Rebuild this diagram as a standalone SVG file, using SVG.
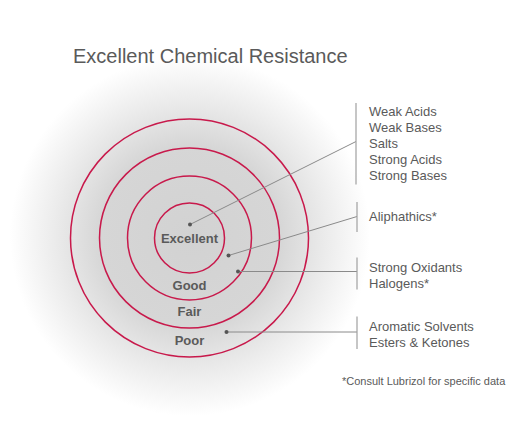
<svg xmlns="http://www.w3.org/2000/svg" width="530" height="433" viewBox="0 0 530 433">
<defs>
<radialGradient id="bg" gradientUnits="userSpaceOnUse" cx="190" cy="236" r="180">
<stop offset="0" stop-color="#d2d2d2"/>
<stop offset="0.5" stop-color="#d6d6d6"/>
<stop offset="0.75" stop-color="#ebebeb"/>
<stop offset="1" stop-color="#ffffff"/>
</radialGradient>
<style>
.ring{fill:none;stroke:#c8194b;stroke-width:1.5}
.lvl{font-family:"Liberation Sans",Arial,sans-serif;font-size:13px;font-weight:bold;fill:#5a5a5a;text-anchor:middle}
.lbl{font-family:"Liberation Sans",Arial,sans-serif;font-size:13px;fill:#5a5a5a}
.conn{stroke:#8a8a8a;stroke-width:1;fill:none}
.brk{stroke:#a0a0a0;stroke-width:1.2;fill:none}
.dot{fill:#555555}
</style>
</defs>
<rect width="530" height="433" fill="#ffffff"/>
<rect width="530" height="433" fill="url(#bg)"/>
<text x="73" y="63" font-family="'Liberation Sans',Arial,sans-serif" font-size="20" fill="#5a5a5a">Excellent Chemical Resistance</text>
<g id="rings">
<circle class="ring" cx="189.5" cy="238" r="119"/>
<circle class="ring" cx="189.5" cy="238" r="90"/>
<circle class="ring" cx="189.5" cy="238" r="62"/>
<circle class="ring" cx="189.5" cy="238" r="35"/>
</g>
<g id="node-excellent"><text class="lvl" x="189.5" y="243">Excellent</text></g>
<g id="node-good"><text class="lvl" x="189.5" y="289.5">Good</text></g>
<g id="node-fair"><text class="lvl" x="189.5" y="316">Fair</text></g>
<g id="node-poor"><text class="lvl" x="189.5" y="345">Poor</text></g>
<g id="connectors">
<line class="conn" x1="190" y1="224.5" x2="356" y2="141.5"/>
<line class="conn" x1="228.5" y1="255.5" x2="357" y2="216.5"/>
<line class="conn" x1="238" y1="271.5" x2="357" y2="271.5"/>
<line class="conn" x1="226.5" y1="332" x2="357" y2="332"/>
<circle class="dot" cx="190" cy="224.5" r="2"/>
<circle class="dot" cx="228.5" cy="255.5" r="2"/>
<circle class="dot" cx="238" cy="271.5" r="2"/>
<circle class="dot" cx="226.5" cy="332" r="2"/>
</g>
<g id="group-excellent">
<line class="brk" x1="356" y1="103" x2="356" y2="184.5"/>
<text class="lbl" x="369" y="116">Weak Acids</text>
<text class="lbl" x="369" y="132">Weak Bases</text>
<text class="lbl" x="369" y="148">Salts</text>
<text class="lbl" x="369" y="164">Strong Acids</text>
<text class="lbl" x="369" y="180">Strong Bases</text>
</g>
<g id="group-good">
<line class="brk" x1="357" y1="202" x2="357" y2="232"/>
<text class="lbl" x="369" y="221">Aliphathics*</text>
</g>
<g id="group-fair">
<line class="brk" x1="357" y1="257.5" x2="357" y2="289.5"/>
<text class="lbl" x="369" y="272">Strong Oxidants</text>
<text class="lbl" x="369" y="288">Halogens*</text>
</g>
<g id="group-poor">
<line class="brk" x1="357" y1="316.5" x2="357" y2="349"/>
<text class="lbl" x="369" y="330.5">Aromatic Solvents</text>
<text class="lbl" x="369" y="346.5">Esters &amp; Ketones</text>
</g>
<text x="342" y="385" font-family="'Liberation Sans',Arial,sans-serif" font-size="11" fill="#5a5a5a">*Consult Lubrizol for specific data</text>
</svg>
